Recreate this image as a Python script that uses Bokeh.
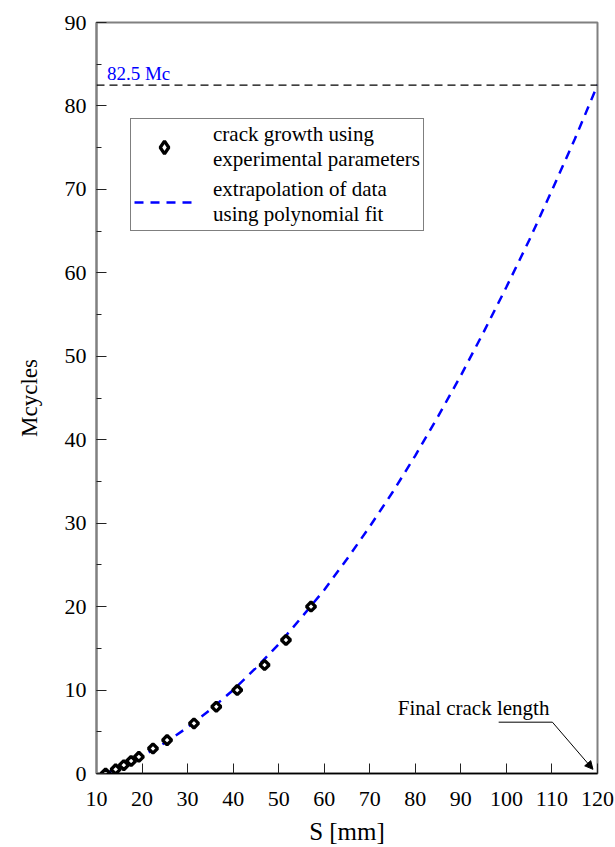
import math
from bokeh.plotting import figure
from bokeh.models import (Legend, LegendItem, Label, Span, Arrow, NormalHead,
                          SingleIntervalTicker, Range1d)
from bokeh.embed import file_html
from bokeh.resources import INLINE

# experimental crack growth points
S_exp = [12.0, 14.2, 16.0, 17.6, 19.3, 22.4, 25.5, 31.4, 36.3, 40.9, 46.9, 51.6, 57.1]
N_exp = [0.0, 0.5, 1.0, 1.5, 2.0, 3.0, 4.0, 6.0, 8.0, 10.0, 13.0, 16.0, 20.0]

# polynomial-fit extrapolation
S_fit = [12, 15, 20, 25, 30, 35, 40, 45, 50, 55, 60, 65, 70, 75, 80, 85, 90,
         95, 100, 105, 110, 115, 120]
N_fit = [0.0, 0.69, 2.05, 3.67, 5.53, 7.65, 10.0, 12.65, 15.5, 18.7, 22.0, 25.7,
         29.6, 33.7, 38.1, 42.8, 47.7, 52.9, 58.3, 63.9, 69.9, 76.0, 82.5]

final_cycles = 82.5
final_label = "82.5 Mc"
note_text = "Final crack length"
note_pos = (92.8, 6.4)
underline_x = [98.3, 110.1]
underline_y = 6.15
arrow_end = (119.0, 0.5)

FONT = "Liberation Serif"

p = figure(width=615, height=847, output_backend="svg", toolbar_location=None,
           x_range=Range1d(10, 120), y_range=Range1d(0, 90),
           min_border_left=96, min_border_right=18, min_border_top=22,
           min_border_bottom=74)
p.grid.visible = False
p.outline_line_color = "#808080"
p.outline_line_width = 2
p.background_fill_color = "white"
p.border_fill_color = "white"

# axes
p.xaxis.ticker = SingleIntervalTicker(interval=10, num_minor_ticks=0)
p.yaxis.ticker = SingleIntervalTicker(interval=10, num_minor_ticks=2)
for ax in (p.xaxis, p.yaxis):
    ax.major_label_text_font = FONT
    ax.major_label_text_font_size = "22px"
    ax.major_label_text_color = "black"
    ax.axis_label_text_font = FONT
    ax.axis_label_text_font_style = "normal"
    ax.axis_label_text_color = "black"
    ax.major_tick_in = 10
    ax.major_tick_out = 0
    ax.minor_tick_in = 5
    ax.minor_tick_out = 0
    ax.major_tick_line_color = "#222222"
    ax.minor_tick_line_color = "#222222"
p.xaxis.minor_tick_line_color = None
p.xaxis.axis_line_color = "black"
p.xaxis.axis_line_width = 1.5
p.yaxis.axis_line_color = "#808080"
p.yaxis.axis_line_width = 2
p.xaxis.axis_label = "S [mm]"
p.yaxis.axis_label = "Mcycles"
p.xaxis.axis_label_text_font_size = "25px"
p.yaxis.axis_label_text_font_size = "23px"
p.xaxis.major_label_standoff = 18
p.xaxis.axis_label_standoff = 9
p.yaxis.major_label_standoff = 10
p.yaxis.axis_label_standoff = 20

# final-life reference line
p.add_layout(Span(location=final_cycles, dimension="width", line_color="black",
                  line_dash="8 5", line_width=1.2))
p.add_layout(Label(x=12.3, y=final_cycles, y_offset=1, text=final_label,
                   text_color="blue", text_font=FONT, text_font_size="19px",
                   text_baseline="bottom"))

# data
ln = p.line(S_fit, N_fit, line_color="blue", line_width=2.5, line_dash="9 7")
sc = p.scatter(S_exp, N_exp, marker="square", angle=math.pi / 4, size=6.5,
               fill_color="white", line_color="black", line_width=3.3)
# legend-only swatch (not drawn in the plot area)
sw = p.scatter(x=[float("nan")], y=[float("nan")], marker="diamond", size=12,
               fill_color="white", line_color="black", line_width=3.3)

# annotation
p.add_layout(Label(x=note_pos[0], y=note_pos[1], text=note_text, text_font=FONT,
                   text_font_size="21px", text_align="center",
                   text_baseline="bottom", text_color="black"))
p.add_layout(Arrow(end=None, x_start=underline_x[0], y_start=underline_y,
                   x_end=underline_x[1], y_end=underline_y, line_width=1,
                   line_color="black"))
p.add_layout(Arrow(end=NormalHead(size=8, fill_color="black", line_color="black"),
                   x_start=underline_x[1], y_start=underline_y,
                   x_end=arrow_end[0], y_end=arrow_end[1], line_width=1,
                   line_color="black"))

legend = Legend(items=[
    LegendItem(label="crack growth using\nexperimental parameters", renderers=[sw]),
    LegendItem(label="extrapolation of data\nusing polynomial fit", renderers=[ln]),
], location=(34, 542))
legend.border_line_color = "black"
legend.border_line_width = 1.3
legend.background_fill_alpha = 1
legend.padding = 3
legend.spacing = 5
legend.margin = 0
legend.glyph_width = 60
legend.glyph_height = 32
legend.label_standoff = 19
legend.label_text_font = FONT
legend.label_text_font_size = "21px"
legend.label_text_color = "black"
legend.label_text_line_height = 1.4
p.add_layout(legend)

open("out.html", "w").write(file_html(p, INLINE))
